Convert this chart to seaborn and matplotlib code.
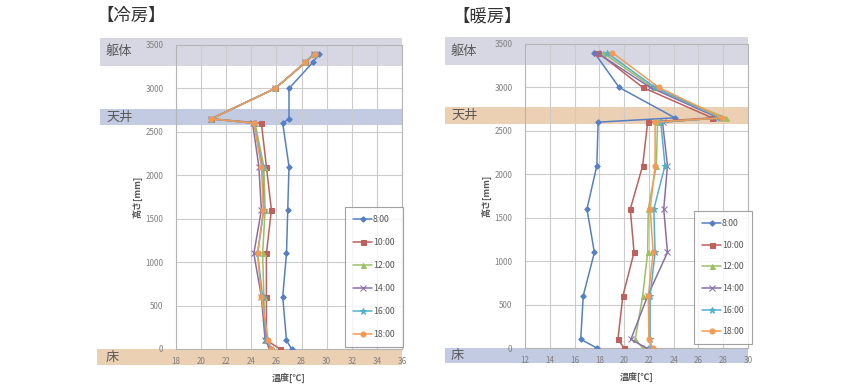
import numpy as np
import pandas as pd
import matplotlib
matplotlib.use("Agg")
import matplotlib.pyplot as plt
import matplotlib.transforms as mtransforms
from matplotlib.patches import Rectangle
import seaborn as sns

# --------------------------------------------
# DATA
# --------------------------------------------
times = ["8:00", "10:00", "12:00", "14:00", "16:00", "18:00"]

# 冷房 (cooling)
cool_heights = [0, 100, 600, 1100, 1600, 2100, 2600, 2650, 3000, 3300, 3400]
cool_0800 = [27.2, 26.8, 26.5, 26.8, 26.9, 27.0, 26.5, 27.0, 27.0, 28.9, 29.4]
cool_1000 = [26.3, 25.2, 25.2, 25.2, 25.6, 25.2, 24.8, 20.8, 25.9, 28.3, 29.0]
cool_1200 = [25.6, 25.1, 25.0, 24.9, 25.1, 25.0, 24.3, 20.8, 25.9, 28.3, 29.0]
cool_1400 = [25.5, 25.1, 24.8, 24.2, 24.8, 24.6, 24.1, 20.8, 25.9, 28.3, 29.0]
cool_1600 = [25.6, 25.2, 24.9, 24.5, 25.0, 24.9, 24.2, 20.8, 25.9, 28.3, 29.0]
cool_1800 = [25.6, 25.35, 24.8, 24.5, 24.95, 24.8, 24.2, 20.8, 25.9, 28.3, 29.1]

# 暖房 (heating)
heat_heights = [0, 100, 600, 1100, 1600, 2100, 2600, 2650, 3000, 3400]
heat_0800 = [17.8, 16.5, 16.7, 17.6, 17.0, 17.8, 17.9, 24.1, 19.6, 17.6]
heat_1000 = [20.0, 19.5, 19.9, 20.8, 20.5, 21.5, 21.9, 27.1, 21.5, 17.9]
heat_1200 = [21.5, 20.9, 21.5, 21.9, 21.95, 22.6, 22.7, 28.2, 22.3, 18.3]
heat_1400 = [21.8, 20.55, 21.9, 23.5, 23.2, 23.5, 23.1, 27.6, 22.1, 17.8]
heat_1600 = [22.2, 22.1, 22.1, 22.5, 22.4, 23.3, 22.96, 27.7, 22.5, 18.6]
heat_1800 = [22.3, 22.0, 21.95, 22.35, 22.1, 22.5, 22.5, 27.9, 22.8, 19.05]


def to_long(heights, series):
    rows = []
    for t, vals in zip(times, series):
        for h, v in zip(heights, vals):
            rows.append({"time": t, "temp": v, "height": h})
    return pd.DataFrame(rows)


cool_df = to_long(cool_heights, [cool_0800, cool_1000, cool_1200, cool_1400, cool_1600, cool_1800])
heat_df = to_long(heat_heights, [heat_0800, heat_1000, heat_1200, heat_1400, heat_1600, heat_1800])

# --------------------------------------------
# STYLE
# --------------------------------------------
sns.set_theme(style="white")
plt.rcParams['font.family'] = ['Noto Sans CJK JP', 'DejaVu Sans']

palette = dict(zip(times, ["#5580c4", "#c0605c", "#9cc064", "#8a6eaa", "#52b0cc", "#f39a55"]))
markers = dict(zip(times, ["D", "s", "^", "x", "*", "o"]))
msizes = {"8:00": 2.8, "10:00": 3.6, "12:00": 3.6, "14:00": 4, "16:00": 4.5, "18:00": 3.6}

BAND_GRAY = "#d6d7e3"
BAND_BLUE = "#c3cbe2"
BAND_TAN = "#ecd0b3"
LABEL_COL = "#5a5a5a"
GRID_COL = "#cbcbcb"

W, H = 842, 387
fig = plt.figure(figsize=(W / 100, H / 100), dpi=100)
fig.patch.set_facecolor("white")


def px_box(x0, x1, ytop, ybot):
    return [x0 / W, 1 - ybot / H, (x1 - x0) / W, (ybot - ytop) / H]


def draw_panel(df, box, xlim, xticks, title, title_x, bands, label_x, legend_xy, spacing):
    ax = fig.add_axes(box)
    ax.set_facecolor("none")

    # background bands, from left of the labels to right edge of the plot
    trans = mtransforms.blended_transform_factory(fig.transFigure, ax.transData)
    x_right = box[0] + box[2]
    for (y0, y1, col, label, bx0) in bands:
        rect = Rectangle((bx0 / W, y0), x_right - bx0 / W, y1 - y0, transform=trans,
                         facecolor=col, edgecolor="none", zorder=-5, clip_on=False)
        fig.add_artist(rect)
        ax.text(label_x / W, (y0 + y1) / 2, label, transform=trans,
                fontsize=9.5, color=LABEL_COL, va="center", ha="left")

    for t in times:
        sub = df[df["time"] == t]
        sns.lineplot(data=sub, x="temp", y="height", sort=False, estimator=None,
                     color=palette[t], marker=markers[t], markersize=msizes[t],
                     markeredgecolor=palette[t], linewidth=1.1, label=t, ax=ax,
                     zorder=3)

    ax.set_xlim(xlim)
    ax.set_ylim(0, 3500)
    ax.set_xticks(xticks)
    ax.set_yticks(np.arange(0, 3501, 500))
    ax.grid(True, color=GRID_COL, linewidth=0.8)
    for s in ax.spines.values():
        s.set_color("#b5b5b5")
        s.set_linewidth(0.8)
    ax.tick_params(axis="both", labelsize=5.8, colors="#808080", length=3, width=0.6, pad=6)
    ax.tick_params(axis="x", length=0)
    ax.set_xlabel("温度[℃]", fontsize=6.5, fontweight="bold", color="#555555", labelpad=5)
    ax.set_ylabel("高さ[mm]", fontsize=6.5, fontweight="bold", color="#555555", labelpad=2)

    leg = ax.legend(loc="upper left", bbox_to_anchor=legend_xy, bbox_transform=fig.transFigure,
                    fontsize=6.3, frameon=True, fancybox=False, labelspacing=spacing,
                    handlelength=2.2, handletextpad=0.1, borderpad=0.9, borderaxespad=0)
    leg.get_frame().set_edgecolor("#8a8a8a")
    leg.get_frame().set_linewidth(0.8)
    for txt in leg.get_texts():
        txt.set_color("#555555")

    fig.text(title_x / W, 1 - 16 / H, title, fontsize=12.5, color="#333333", va="center", ha="left")
    return ax


# 冷房
draw_panel(cool_df, px_box(176, 402, 45, 349), (18, 36), np.arange(18, 37, 2), "【冷房】", 96,
           [(3260, 3580, BAND_GRAY, "躯体", 100),
            (2580, 2760, BAND_BLUE, "天井", 100),
            (-185, 0, BAND_TAN, "床", 97)],
           106, (345 / W, 1 - 207 / H), 1.6)

# 暖房
draw_panel(heat_df, px_box(525, 748, 44, 348), (12, 30), np.arange(12, 31, 2), "【暖房】", 452,
           [(3258, 3577, BAND_GRAY, "躯体", 445),
            (2579, 2771, BAND_TAN, "天井", 445),
            (-178, 0, BAND_BLUE, "床", 445)],
           451, (694 / W, 1 - 211 / H), 1.45)

plt.savefig("out.png", dpi=100)
